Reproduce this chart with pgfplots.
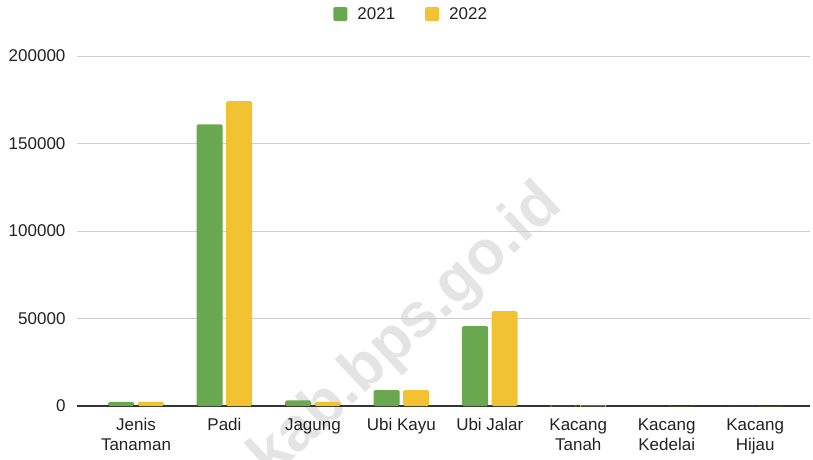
\documentclass[border=0pt]{standalone}
\usepackage{pgfplots}
\pgfplotsset{compat=1.18}
\usepackage{fontspec}
\setmainfont{Liberation Sans}
\definecolor{cgreen}{HTML}{6AA84F}
\definecolor{cyellow}{HTML}{F1C232}
\definecolor{cgrid}{HTML}{CCCCCC}
\definecolor{ctext}{HTML}{222222}
\definecolor{cbase}{HTML}{333333}
\definecolor{cwater}{HTML}{E4E4E4}
\begin{document}
\begin{tikzpicture}[x=1pt,y=1pt]
\path[use as bounding box] (0,0) rectangle (813,459);
\begin{scope}
\clip (0,0) rectangle (813,459);
\node[rotate=43, font=\fontsize{62}{62}\selectfont\bfseries, text=cwater] at (407,127) {kab.bps.go.id};
\end{scope}
\begin{axis}[
  at={(77pt,53pt)}, anchor=south west,
  scale only axis, width=733pt, height=350pt,
  xmin=-0.667, xmax=7.62, ymin=0, ymax=200000,
  xtick={0,1,2,3,4,5,6,7},
  xticklabels={{Jenis\\Tanaman},Padi,Jagung,{Ubi Kayu},{Ubi Jalar},{Kacang\\Tanah},{Kacang\\Kedelai},{Kacang\\Hijau}},
  xticklabel style={align=center, font=\fontsize{17}{20}\selectfont, text=ctext, yshift=-9pt},
  ytick={0,50000,100000,150000,200000},
  yticklabel style={font=\fontsize{17}{20}\selectfont, text=ctext, xshift=-8pt},
  scaled y ticks=false,
  /pgf/number format/.cd, fixed, 1000 sep={}, assume math mode=true, /pgfplots/.cd,
  ymajorgrids, grid style={cgrid, line width=1pt},
  axis line style={draw=none},
  major tick length=0pt,
  extra y ticks={0}, extra y tick labels={},
  extra y tick style={grid style={cbase, line width=1.3pt}},
  legend style={at={(0.456,1.12)}, anchor=center, draw=none, fill=none,
    legend columns=2, font=\fontsize{17}{20}\selectfont, text=ctext,
    /tikz/every odd column/.append style={column sep=8pt},
    /tikz/every even column/.append style={column sep=28pt}},
  legend image code/.code={\fill[#1, rounded corners=1.5pt] (0pt,-7pt) rectangle (14pt,7pt);},
]
\addplot[ybar, bar width=0.294, bar shift=-0.167, fill=cgreen, draw=none, rounded corners=1.5pt]
  coordinates {(0,2300) (1,161000) (2,3200) (3,9100) (4,45700) (5,60) (6,0) (7,0)};
\addlegendentry{2021}
\addplot[ybar, bar width=0.294, bar shift=0.167, fill=cyellow, draw=none, rounded corners=1.5pt]
  coordinates {(0,2300) (1,174200) (2,2300) (3,9100) (4,54200) (5,250) (6,0) (7,0)};
\addlegendentry{2022}
\end{axis}
\end{tikzpicture}
\end{document}
